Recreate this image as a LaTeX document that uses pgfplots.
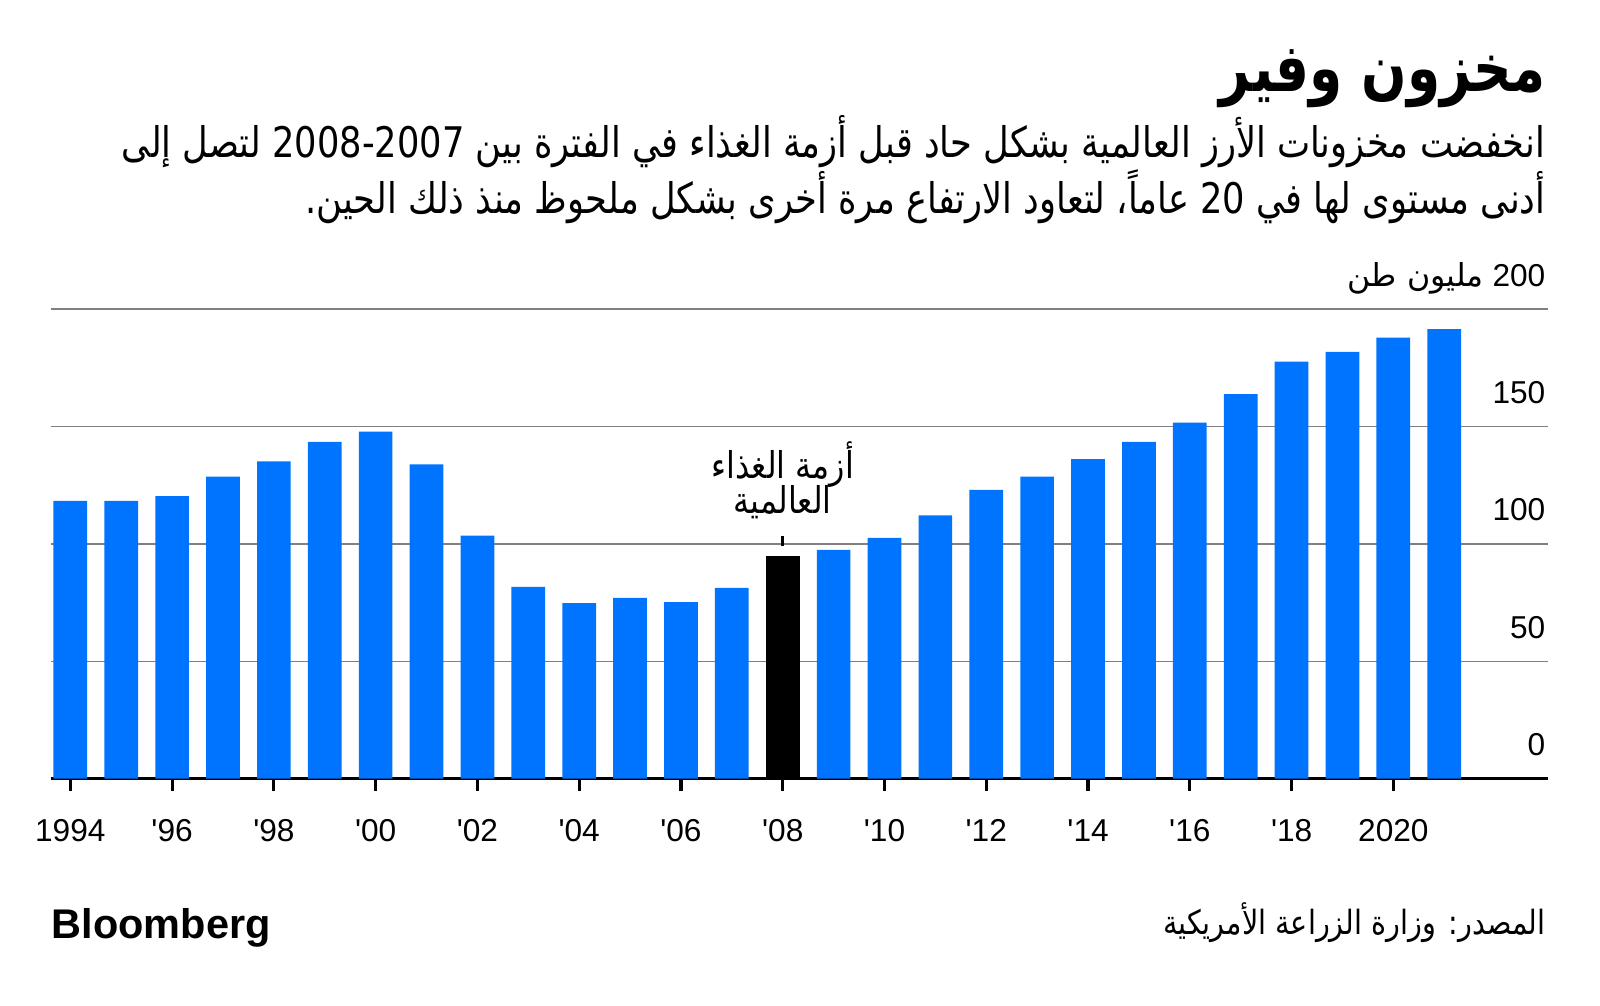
\documentclass[border=0pt]{standalone}
\usepackage{pgfplots}
\pgfplotsset{compat=1.18}
\usepackage{fontspec}
\setmainfont{Liberation Sans}
\newfontfamily\tickfont{Liberation Sans}
\newfontfamily\arabicfont[Script=Arabic]{DejaVu Sans}
\newfontfamily\arabicnarrow[Script=Arabic, FakeStretch=0.86]{DejaVu Sans}
\newfontfamily\arabicsub[Script=Arabic, FakeStretch=0.835]{DejaVu Sans}
\newfontfamily\arabictitle[Script=Arabic, FakeStretch=0.8]{DejaVu Sans Bold}
\TeXXeTstate=1
\definecolor{bblue}{RGB}{0,115,255}
\definecolor{gridgray}{RGB}{128,128,128}
\begin{document}
\begin{tikzpicture}
\path[use as bounding box] (0,0) rectangle (16,10.05);
% title
\node[anchor=base east, inner sep=0pt, font=\arabictitle\fontsize{19}{23}\selectfont] at (15.46,9.13) {\beginR مخزون وفير\endR};
\node[anchor=base east, inner sep=0pt, font=\arabicsub\fontsize{12}{15}\selectfont] at (15.46,8.47) {\beginR انخفضت مخزونات الأرز العالمية بشكل حاد قبل أزمة الغذاء في الفترة بين \beginL 2008-2007\endL{} لتصل إلى\endR};
\node[anchor=base east, inner sep=0pt, font=\arabicsub\fontsize{12}{15}\selectfont] at (15.46,7.91) {\beginR أدنى مستوى لها في \beginL 20\endL{} عاماً، لتعاود الارتفاع مرة أخرى بشكل ملحوظ منذ ذلك الحين.\endR};
% footer
\node[anchor=base west, inner sep=0pt, font=\bfseries\fontsize{11.8}{13}\selectfont] at (0.51,0.67) {Bloomberg};
\node[anchor=base east, inner sep=0pt, font=\arabicnarrow\fontsize{9.5}{12}\selectfont] at (15.46,0.70) {\beginR المصدر: وزارة الزراعة الأمريكية\endR};
\begin{axis}[
  at={(0.51cm,2.264cm)}, anchor=south west, scale only axis,
  width=14.97cm, height=4.694cm,
  xmin=1993.62, xmax=2023.04, ymin=0, ymax=200,
  axis x line*=bottom, axis y line*=right,
  x axis line style={black, line width=0.9pt, -},
  y axis line style={draw=none},
  ytick={0,50,100,150,200},
  yticklabels={0,50,100,150,{{\arabicfont\beginR مليون طن\endR} 200}},
  ymajorgrids, grid style={gridgray, line width=0.4pt},
  ytick style={draw=none},
  ytick align=inside,
  major tick length=0.12cm,
  xtick={1994,1996,...,2020},
  xticklabels={1994,'96,'98,'00,'02,'04,'06,'08,'10,'12,'14,'16,'18,2020},
  xtick align=outside,
  xtick style={black, line width=0.9pt},
  xticklabel style={font=\tickfont\fontsize{9}{11}\selectfont, anchor=base, inner sep=0pt, yshift=-0.51cm},
  yticklabel style={font=\tickfont\fontsize{9}{11}\selectfont, anchor=base east, inner sep=0pt, xshift=-0.02cm, yshift=0.23cm},
  clip=false,
]
\addplot[ybar, bar width=0.337cm, bar shift=0pt, fill=bblue, draw=none] coordinates {
(1994,118.3) (1995,118.3) (1996,120.4) (1997,128.7) (1998,135.2) (1999,143.5)
(2000,147.8) (2001,133.9) (2002,103.5) (2003,81.7) (2004,74.8) (2005,77.0)
(2006,75.2) (2007,81.3) (2009,97.4) (2010,102.6) (2011,112.2)
(2012,123.0) (2013,128.7) (2014,136.1) (2015,143.5) (2016,151.7) (2017,163.8)
(2018,177.7) (2019,181.8) (2020,187.9) (2021,191.5)
};
\addplot[ybar, bar width=0.337cm, bar shift=0pt, fill=black, draw=none] coordinates {(2008,94.8)};
\node[anchor=base, inner sep=0pt, font=\arabicnarrow\fontsize{10.5}{13}\selectfont] at (axis cs:2008,128) {\beginR أزمة الغذاء\endR};
\node[anchor=base, inner sep=0pt, font=\arabicnarrow\fontsize{10.5}{13}\selectfont] at (axis cs:2008,113) {\beginR العالمية\endR};
\draw[black, line width=0.8pt] (axis cs:2008,99) -- (axis cs:2008,103.5);
\end{axis}
\end{tikzpicture}
\end{document}
